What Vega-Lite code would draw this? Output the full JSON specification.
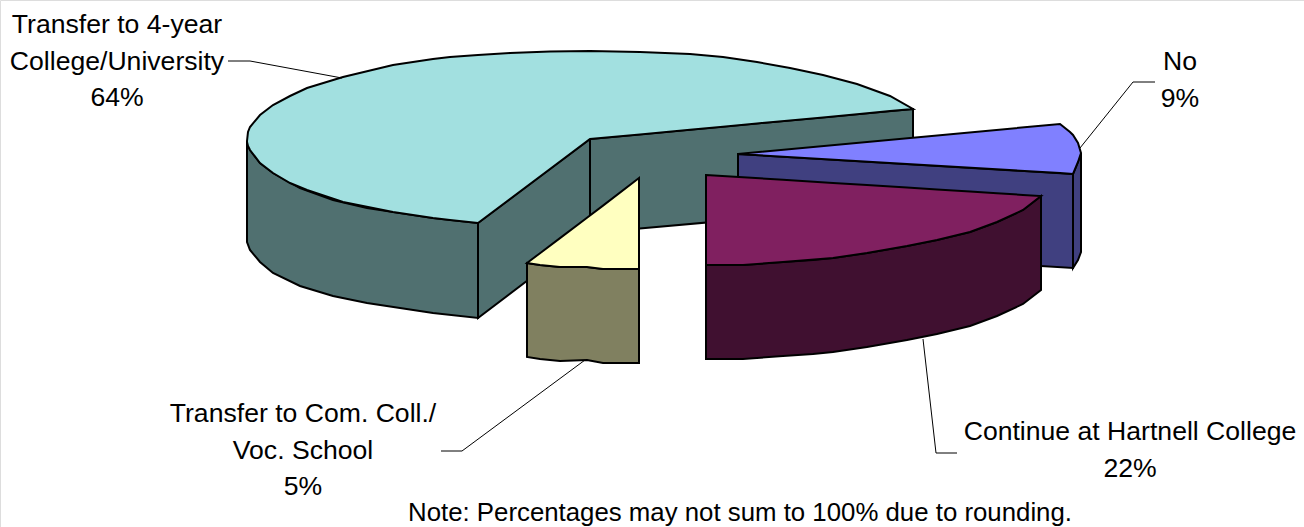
{
"$schema":"https://vega.github.io/schema/vega-lite/v6.json",
"width":1304,"height":527,"padding":0,"autosize":"none",
"background":"white",
"datasets":{
"faces":[
{"face":"College outer side","x":247,"y":142,"y2":242},{"face":"College outer side","x":250,"y":150,"y2":250},{"face":"College outer side","x":260,"y":163,"y2":262},{"face":"College outer side","x":273,"y":173,"y2":273},{"face":"College outer side","x":300,"y":188,"y2":286},{"face":"College outer side","x":333,"y":200,"y2":296},{"face":"College outer side","x":367,"y":208,"y2":303},{"face":"College outer side","x":400,"y":213,"y2":308},{"face":"College outer side","x":433,"y":218,"y2":313},{"face":"College outer side","x":478,"y":223,"y2":318},
{"face":"College cut back","x":590,"y":139,"y2":233},{"face":"College cut back","x":913,"y":109,"y2":204},
{"face":"College cut front","x":478,"y":223,"y2":318},{"face":"College cut front","x":590,"y":139,"y2":233},
{"face":"College top","x":247,"y":141,"y2":142},{"face":"College top","x":248,"y":132,"y2":146},{"face":"College top","x":250,"y":127,"y2":150},{"face":"College top","x":260,"y":115,"y2":163},{"face":"College top","x":273,"y":105,"y2":173},{"face":"College top","x":290,"y":96,"y2":183},{"face":"College top","x":307,"y":88,"y2":190},{"face":"College top","x":343,"y":77,"y2":202},{"face":"College top","x":393,"y":65,"y2":212},{"face":"College top","x":433,"y":59,"y2":218},{"face":"College top","x":450,"y":57,"y2":220},{"face":"College top","x":478,"y":55,"y2":223},{"face":"College top","x":510,"y":53,"y2":199},{"face":"College top","x":550,"y":51.5,"y2":169},{"face":"College top","x":590,"y":51,"y2":139},{"face":"College top","x":640,"y":52,"y2":134.4},{"face":"College top","x":690,"y":54,"y2":129.7},{"face":"College top","x":723,"y":57,"y2":126.7},{"face":"College top","x":757,"y":62,"y2":123.5},{"face":"College top","x":790,"y":68,"y2":120.4},{"face":"College top","x":823,"y":75,"y2":117.4},{"face":"College top","x":857,"y":84,"y2":114.2},{"face":"College top","x":890,"y":96,"y2":111.1},{"face":"College top","x":913,"y":109,"y2":109},
{"face":"No cut","x":738,"y":154,"y2":248},{"face":"No cut","x":1073,"y":174,"y2":268},
{"face":"No outer side","x":1073,"y":174,"y2":268},{"face":"No outer side","x":1078,"y":162,"y2":260},{"face":"No outer side","x":1081,"y":153,"y2":252},
{"face":"No top","x":738,"y":154,"y2":154},{"face":"No top","x":1060,"y":124,"y2":173},{"face":"No top","x":1070,"y":132,"y2":173.8},{"face":"No top","x":1073,"y":135,"y2":174},{"face":"No top","x":1078,"y":143,"y2":162},{"face":"No top","x":1081,"y":153,"y2":153},
{"face":"Hartnell outer side","x":706,"y":265,"y2":359},{"face":"Hartnell outer side","x":743,"y":265,"y2":359},{"face":"Hartnell outer side","x":783,"y":262,"y2":356},{"face":"Hartnell outer side","x":813,"y":260,"y2":354},{"face":"Hartnell outer side","x":833,"y":258,"y2":352},{"face":"Hartnell outer side","x":867,"y":253,"y2":347},{"face":"Hartnell outer side","x":907,"y":246,"y2":340},{"face":"Hartnell outer side","x":937,"y":240,"y2":334},{"face":"Hartnell outer side","x":970,"y":232,"y2":326},{"face":"Hartnell outer side","x":997,"y":222,"y2":316},{"face":"Hartnell outer side","x":1023,"y":210,"y2":304},{"face":"Hartnell outer side","x":1041,"y":196,"y2":290},
{"face":"Hartnell top","x":706,"y":175,"y2":265},{"face":"Hartnell top","x":743,"y":177.3,"y2":265},{"face":"Hartnell top","x":783,"y":179.8,"y2":262},{"face":"Hartnell top","x":833,"y":182.9,"y2":258},{"face":"Hartnell top","x":867,"y":185.1,"y2":253},{"face":"Hartnell top","x":907,"y":187.6,"y2":246},{"face":"Hartnell top","x":937,"y":189.5,"y2":240},{"face":"Hartnell top","x":970,"y":191.5,"y2":232},{"face":"Hartnell top","x":997,"y":193.2,"y2":222},{"face":"Hartnell top","x":1023,"y":194.9,"y2":210},{"face":"Hartnell top","x":1041,"y":196,"y2":196},
{"face":"Com. Coll. side","x":527,"y":263,"y2":357},{"face":"Com. Coll. side","x":540,"y":265,"y2":359},{"face":"Com. Coll. side","x":560,"y":267,"y2":361},{"face":"Com. Coll. side","x":587,"y":267,"y2":360},{"face":"Com. Coll. side","x":603,"y":269,"y2":363},{"face":"Com. Coll. side","x":639,"y":269,"y2":363},
{"face":"Com. Coll. top","x":527,"y":263,"y2":263},{"face":"Com. Coll. top","x":540,"y":253.2,"y2":265},{"face":"Com. Coll. top","x":560,"y":238.1,"y2":267},{"face":"Com. Coll. top","x":587,"y":217.7,"y2":267},{"face":"Com. Coll. top","x":603,"y":205.6,"y2":269},{"face":"Com. Coll. top","x":639,"y":178,"y2":269}
],
"leaders":[
{"leader":"College","x":228,"y":61},{"leader":"College","x":250,"y":61},{"leader":"College","x":342,"y":78},
{"leader":"No","x":1080,"y":148},{"leader":"No","x":1133,"y":82},{"leader":"No","x":1155,"y":82},
{"leader":"Hartnell","x":923,"y":339},{"leader":"Hartnell","x":936,"y":453},{"leader":"Hartnell","x":957,"y":453},
{"leader":"Com","x":441,"y":451},{"leader":"Com","x":462,"y":451},{"leader":"Com","x":585,"y":360}
],
"labels":[
{"label":"Transfer to 4-year\nCollege/University\n64%","x":117,"y":25,"share":64},
{"label":"No\n9%","x":1180,"y":62,"share":9},
{"label":"Continue at Hartnell College\n22%","x":1130,"y":432,"share":22},
{"label":"Transfer to Com. Coll./\nVoc. School\n5%","x":303,"y":414,"share":5}
],
"notes":[
{"label":"Note: Percentages may not sum to 100% due to rounding.","x":740,"y":513}
]
},
"layer":[
{"data":{"name":"faces"},
"mark":{"type":"area","stroke":"black","strokeWidth":2,"strokeJoin":"miter","fillOpacity":1,"interpolate":"linear"},
"encoding":{
"x":{"field":"x","type":"quantitative","scale":{"domain":[0,1304],"nice":false,"zero":false},"axis":null},
"y":{"field":"y","type":"quantitative","scale":{"domain":[527,0],"nice":false,"zero":false},"axis":null},
"y2":{"field":"y2"},
"color":{"field":"face","type":"nominal","legend":null,"scale":{
"domain":["College outer side","College cut back","College cut front","College top","No cut","No outer side","No top","Hartnell outer side","Hartnell top","Com. Coll. side","Com. Coll. top"],
"range":["#507070","#507070","#507070","#A2E0E0","#404080","#404080","#8080FF","#401030","#802060","#808060","#FFFFC0"]}}
}},
{"data":{"name":"leaders"},
"mark":{"type":"line","stroke":"black","strokeWidth":1},
"encoding":{
"x":{"field":"x","type":"quantitative","scale":{"domain":[0,1304],"nice":false,"zero":false},"axis":null},
"y":{"field":"y","type":"quantitative","scale":{"domain":[527,0],"nice":false,"zero":false},"axis":null},
"detail":{"field":"leader"}
}},
{"data":{"name":"labels"},
"mark":{"type":"text","font":"Liberation Sans","fontSize":26.6,"lineHeight":36.5,"lineBreak":"\n","align":"center","baseline":"middle","color":"black"},
"encoding":{
"x":{"field":"x","type":"quantitative","scale":{"domain":[0,1304],"nice":false,"zero":false},"axis":null},
"y":{"field":"y","type":"quantitative","scale":{"domain":[527,0],"nice":false,"zero":false},"axis":null},
"text":{"field":"label"}
}},
{"data":{"name":"notes"},
"mark":{"type":"text","font":"Liberation Sans","fontSize":25.8,"align":"center","baseline":"middle","color":"black"},
"encoding":{
"x":{"field":"x","type":"quantitative","scale":{"domain":[0,1304],"nice":false,"zero":false},"axis":null},
"y":{"field":"y","type":"quantitative","scale":{"domain":[527,0],"nice":false,"zero":false},"axis":null},
"text":{"field":"label"}
}}
]
}
